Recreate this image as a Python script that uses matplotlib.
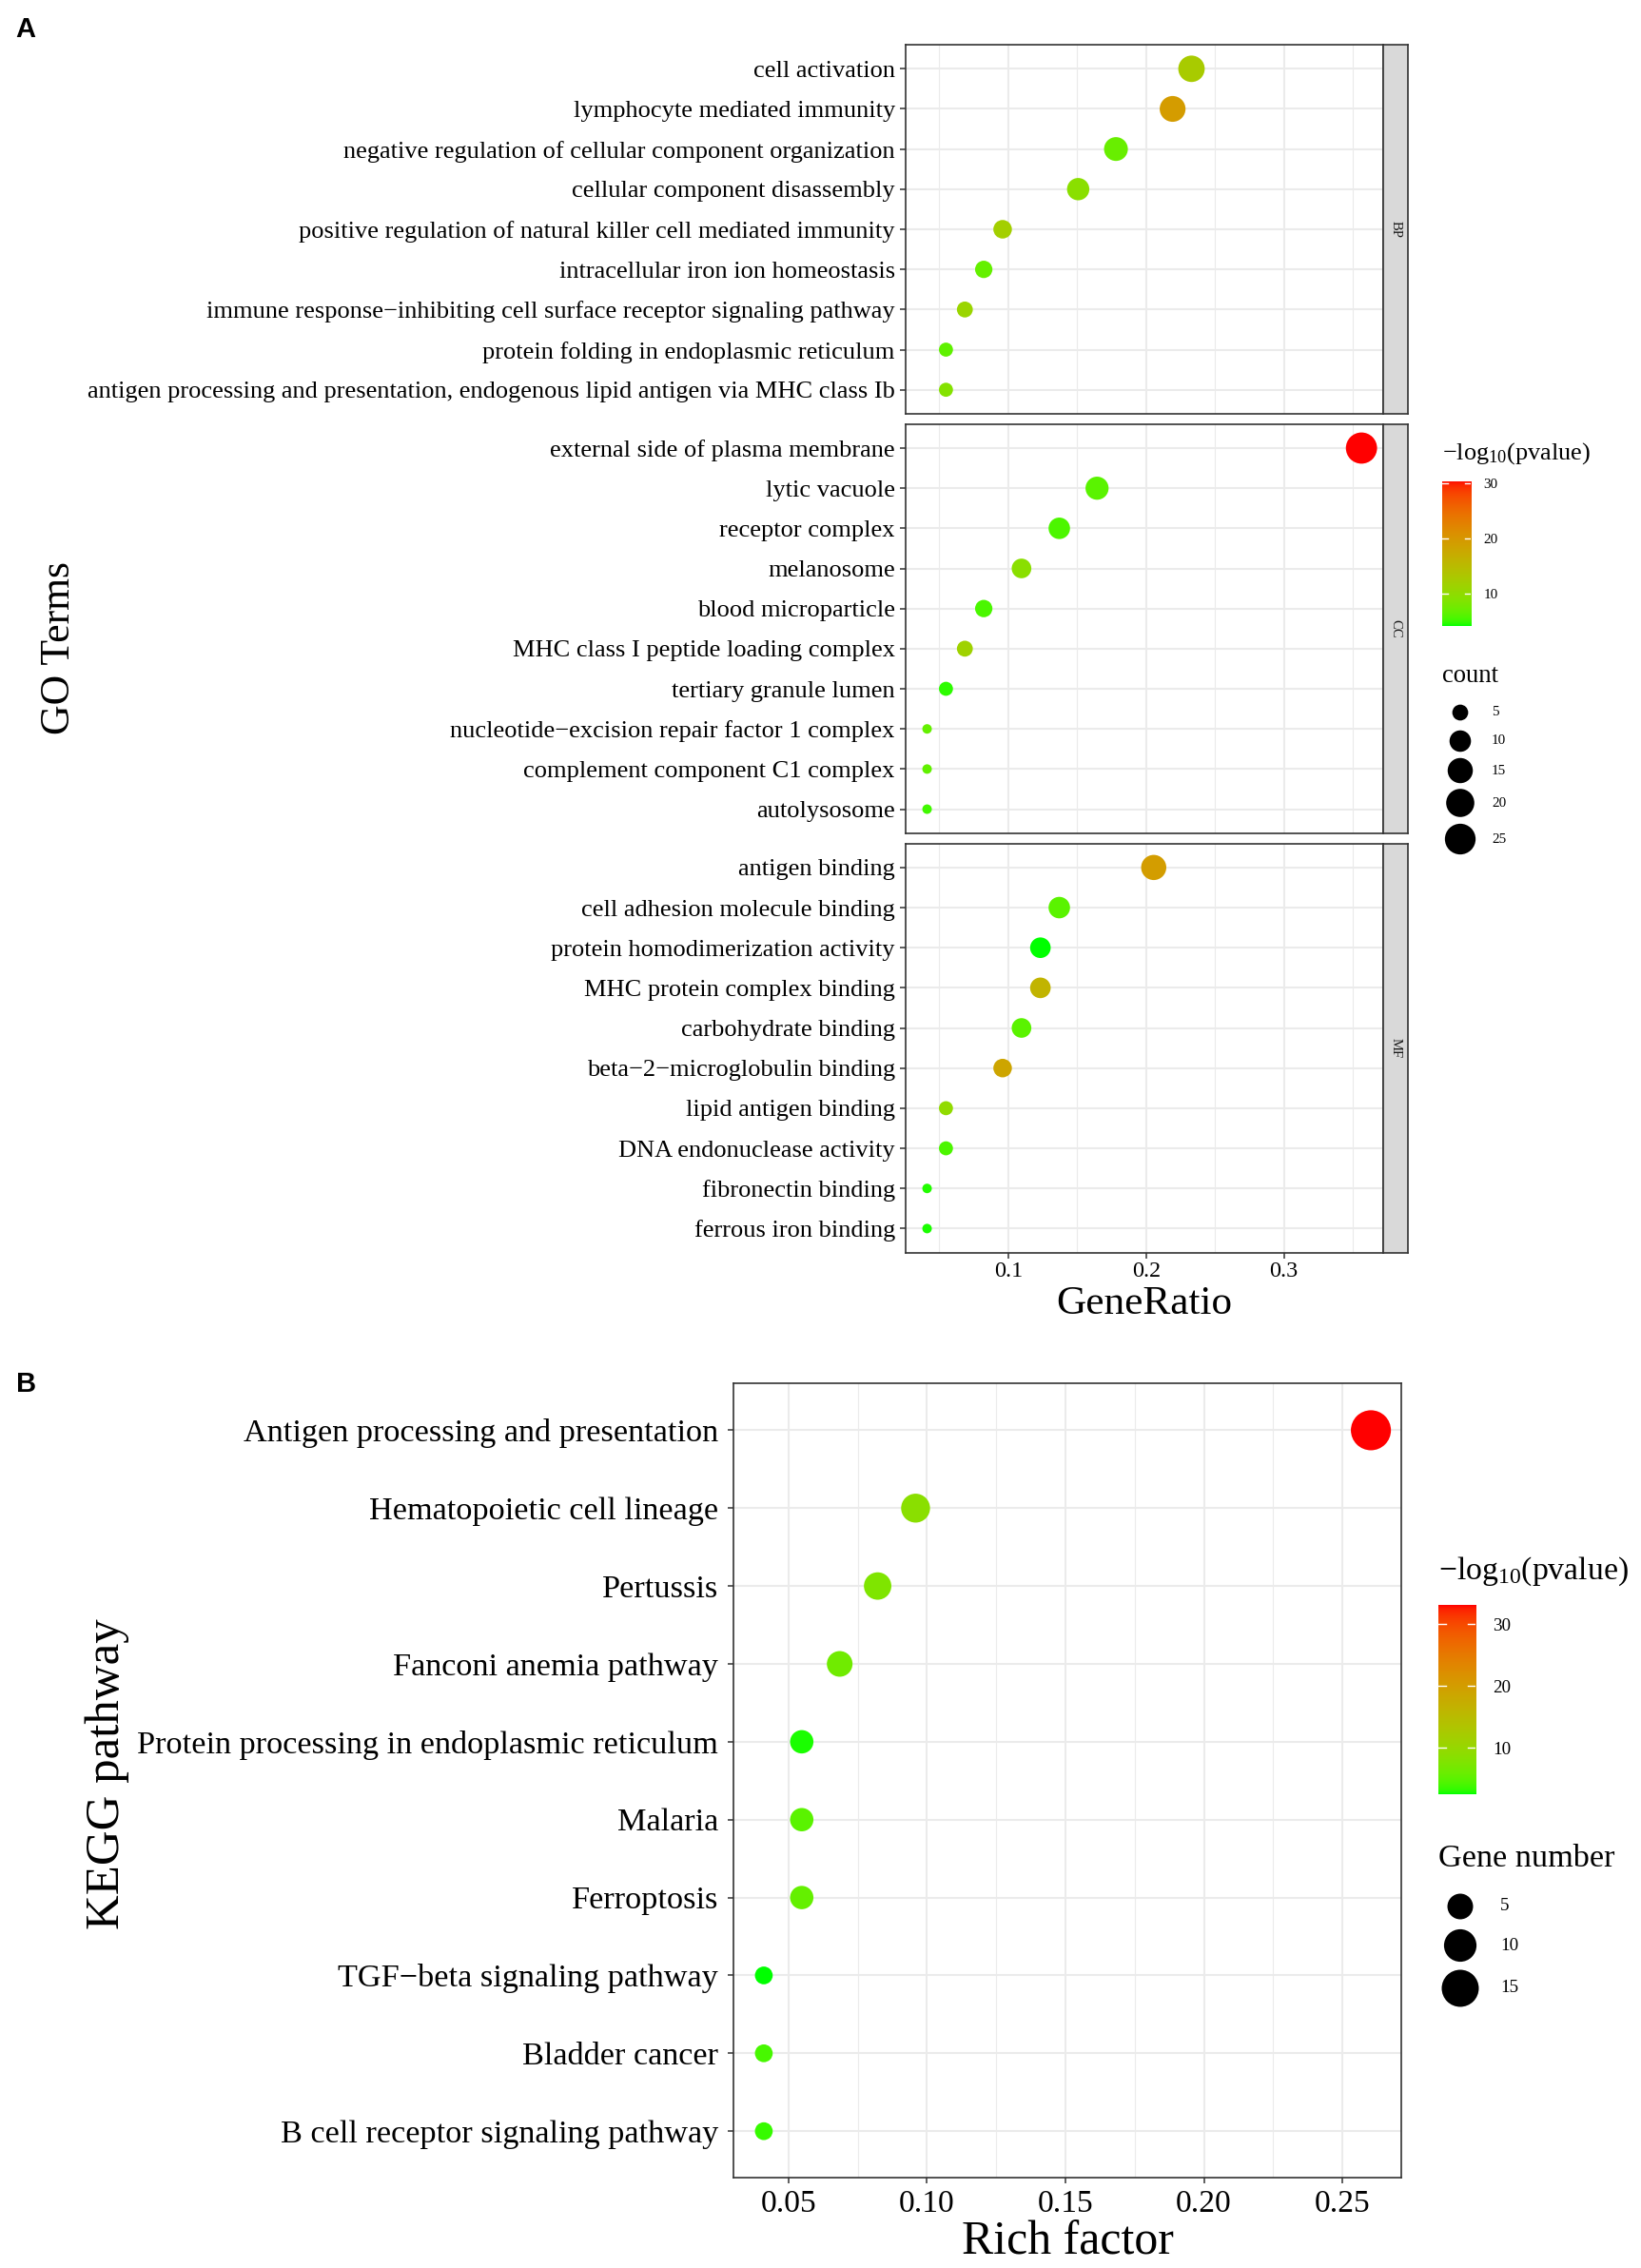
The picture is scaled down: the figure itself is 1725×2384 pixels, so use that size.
import numpy as np
import matplotlib
matplotlib.use("Agg")
import matplotlib.pyplot as plt
from matplotlib.colors import ListedColormap, Normalize

plt.rcParams['font.family'] = ['Liberation Serif', 'DejaVu Serif']
plt.rcParams['mathtext.fontset'] = 'custom'
plt.rcParams['mathtext.rm'] = 'Liberation Serif'
plt.rcParams['mathtext.it'] = 'Liberation Serif:italic'

# ---------------- data ----------------
bp_terms = ["cell activation", "lymphocyte mediated immunity",
            "negative regulation of cellular component organization",
            "cellular component disassembly",
            "positive regulation of natural killer cell mediated immunity",
            "intracellular iron ion homeostasis",
            "immune response\u2212inhibiting cell surface receptor signaling pathway",
            "protein folding in endoplasmic reticulum",
            "antigen processing and presentation, endogenous lipid antigen via MHC class Ib"]
bp_ratio = [0.2329, 0.2192, 0.1781, 0.1507, 0.0959, 0.0822, 0.0685, 0.0548, 0.0548]
bp_count = [17, 16, 13, 11, 7, 6, 5, 4, 4]
bp_logp = [12.5, 19.4, 7.0, 9.4, 12.0, 6.8, 11.0, 6.5, 8.9]

cc_terms = ["external side of plasma membrane", "lytic vacuole", "receptor complex",
            "melanosome", "blood microparticle", "MHC class I peptide loading complex",
            "tertiary granule lumen", "nucleotide\u2212excision repair factor 1 complex",
            "complement component C1 complex", "autolysosome"]
cc_ratio = [0.3562, 0.1644, 0.1370, 0.1096, 0.0822, 0.0685, 0.0548, 0.0411, 0.0411, 0.0411]
cc_count = [26, 12, 10, 8, 6, 5, 4, 3, 3, 3]
cc_logp = [30.34, 6.3, 5.7, 9.4, 5.5, 11.5, 4.7, 6.8, 6.6, 5.2]

mf_terms = ["antigen binding", "cell adhesion molecule binding",
            "protein homodimerization activity", "MHC protein complex binding",
            "carbohydrate binding", "beta\u22122\u2212microglobulin binding",
            "lipid antigen binding", "DNA endonuclease activity",
            "fibronectin binding", "ferrous iron binding"]
mf_ratio = [0.2055, 0.1370, 0.1233, 0.1233, 0.1096, 0.0959, 0.0548, 0.0548, 0.0411, 0.0411]
mf_count = [15, 10, 9, 9, 8, 7, 4, 4, 3, 3]
mf_logp = [19.1, 6.3, 4.17, 16.0, 6.3, 18.0, 10.0, 5.7, 4.5, 4.4]

go_facets = ["BP", "CC", "MF"]
go_xticks = [0.1, 0.2, 0.3]
go_xminor = [0.05, 0.15, 0.25, 0.35]
go_cbar_ticks = [10, 20, 30]
go_size_breaks = [5, 10, 15, 20, 25]

kegg_terms = ["Antigen processing and presentation", "Hematopoietic cell lineage",
              "Pertussis", "Fanconi anemia pathway",
              "Protein processing in endoplasmic reticulum", "Malaria", "Ferroptosis",
              "TGF\u2212beta signaling pathway", "Bladder cancer",
              "B cell receptor signaling pathway"]
kegg_ratio = [0.2603, 0.0959, 0.0822, 0.0685, 0.0548, 0.0548, 0.0548, 0.0411, 0.0411, 0.0411]
kegg_count = [19, 7, 6, 5, 4, 4, 4, 3, 3, 3]
kegg_logp = [33.18, 8.7, 7.6, 6.5, 2.9, 5.0, 5.6, 2.56, 4.1, 3.5]
kegg_xticks = [0.05, 0.10, 0.15, 0.20, 0.25]
kegg_xticklabels = ["0.05", "0.10", "0.15", "0.20", "0.25"]
kegg_xminor = [0.075, 0.125, 0.175, 0.225]
kegg_cbar_ticks = [10, 20, 30]
kegg_size_breaks = [5, 10, 15]

# ---------------- colour scale (green -> red interpolated in Lab, like ggplot) -------------
_M = np.array([[0.4124, 0.3576, 0.1805], [0.2126, 0.7152, 0.0722], [0.0193, 0.1192, 0.9505]])
_Minv = np.linalg.inv(_M)
_white = np.array([0.95047, 1.0, 1.08883])
_d = 6 / 29


def _lin(c):
    c = np.asarray(c, float)
    return np.where(c <= 0.04045, c / 12.92, ((c + 0.055) / 1.055) ** 2.4)


def _gam(c):
    c = np.clip(c, 0, 1)
    return np.where(c <= 0.0031308, 12.92 * c, 1.055 * c ** (1 / 2.4) - 0.055)


def _f(t):
    return np.where(t > _d ** 3, np.cbrt(t), t / (3 * _d * _d) + 4 / 29)


def _finv(t):
    return np.where(t > _d, t ** 3, 3 * _d * _d * (t - 4 / 29))


def rgb2lab(rgb):
    xyz = _M @ _lin(rgb)
    fx, fy, fz = _f(xyz / _white)
    return np.array([116 * fy - 16, 500 * (fx - fy), 200 * (fy - fz)])


def lab2rgb(lab):
    L, a, b = lab
    fy = (L + 16) / 116
    fx = fy + a / 500
    fz = fy - b / 200
    xyz = _white * _finv(np.array([fx, fy, fz]))
    return _gam(_Minv @ xyz)


lab_lo = rgb2lab([0, 1, 0])
lab_hi = rgb2lab([1, 0, 0])
cmap = ListedColormap([lab2rgb((1 - t) * lab_lo + t * lab_hi) for t in np.linspace(0, 1, 256)])

# ---------------- figure ----------------
W, H, DPI = 1725, 2384, 100
fig = plt.figure(figsize=(W / DPI, H / DPI), dpi=DPI)
PT = 72 / DPI
renderer = fig.canvas.get_renderer()

overlay = fig.add_axes([0, 0, 1, 1])
overlay.set_xlim(0, W)
overlay.set_ylim(H, 0)
overlay.axis('off')


def box(x0, y0, x1, y1):
    return [x0 / W, 1 - y1 / H, (x1 - x0) / W, (y1 - y0) / H]


def fit(text, target, **kw):
    t = overlay.text(0, 0, text, fontsize=20, **kw)
    w = t.get_window_extent(renderer=renderer).width
    t.remove()
    return 20 * target / w


BORDER = '#333333'
GRID = '#EBEBEB'


def size_px(c, cmin, cmax, a, b):
    c = np.asarray(c, float)
    return a + b * np.sqrt((c - cmin) / (cmax - cmin))


def style_axes(ax, ylab_fs, ypad):
    ax.set_axisbelow(True)
    ax.grid(True, which='major', color=GRID, lw=1.5)
    ax.grid(True, which='minor', axis='x', color=GRID, lw=0.8)
    for s in ax.spines.values():
        s.set_color(BORDER)
        s.set_linewidth(1.2)
    ax.tick_params(axis='y', length=4, width=1.1, color=BORDER, labelsize=ylab_fs,
                   pad=ypad, labelcolor='black')
    ax.tick_params(axis='x', which='minor', length=0)


# ================= Panel A =================
go_terms = [bp_terms, cc_terms, mf_terms]
go_ratio = [bp_ratio, cc_ratio, mf_ratio]
go_count = [bp_count, cc_count, mf_count]
go_logp = [bp_logp, cc_logp, mf_logp]

allA_ratio = np.concatenate(go_ratio)
allA_count = np.concatenate(go_count)
allA_logp = np.concatenate(go_logp)
normA = Normalize(allA_logp.min(), allA_logp.max())
cminA, cmaxA = allA_count.min(), allA_count.max()
A_a, A_b = 10.0, 22.8
rngA = allA_ratio.max() - allA_ratio.min()
xlimA = (allA_ratio.min() - 0.05 * rngA, allA_ratio.max() + 0.05 * rngA)

A_left, A_right, A_top, A_bottom, A_gap = 951.7, 1454.0, 47.0, 1316.7, 10.7
strip_w = 26
units = [len(t) + 0.2 for t in go_terms]
unit_px = (A_bottom - A_top - 2 * A_gap) / sum(units)

fsA_y = fit(bp_terms[-1], 849)
fsA_x = fit("0.1", 30)
fs_strip = fit("BP", 18)

y0 = A_top
for i, (lab, terms, ratio, cnt, lp) in enumerate(zip(go_facets, go_terms, go_ratio, go_count, go_logp)):
    h = units[i] * unit_px
    ax = fig.add_axes(box(A_left, y0, A_right, y0 + h))
    ypos = np.arange(len(terms))
    d = size_px(cnt, cminA, cmaxA, A_a, A_b)
    ax.scatter(ratio, ypos, s=(d * PT) ** 2, c=lp, cmap=cmap, norm=normA, linewidths=0, zorder=3)
    ax.set_yticks(ypos)
    ax.set_yticklabels(terms)
    ax.set_ylim(len(terms) - 0.4, -0.6)
    ax.set_xlim(*xlimA)
    ax.set_xticks(go_xticks)
    ax.set_xticks(go_xminor, minor=True)
    style_axes(ax, fsA_y, 3.8)
    if i < 2:
        ax.tick_params(axis='x', which='major', bottom=False, labelbottom=False)
    else:
        ax.set_xticklabels([f"{v:g}" for v in go_xticks])
        ax.tick_params(axis='x', which='major', length=4, width=1.1, color=BORDER,
                       labelsize=fsA_x, pad=3.0, labelcolor='black')
    # strip
    sax = fig.add_axes(box(A_right, y0, A_right + strip_w, y0 + h))
    sax.set_facecolor('#D9D9D9')
    sax.set_xticks([])
    sax.set_yticks([])
    for s in sax.spines.values():
        s.set_color(BORDER)
        s.set_linewidth(1.2)
    sax.text(0.5, 0.5, lab, rotation=270, ha='center', va='center', fontsize=fs_strip,
             color='#1A1A1A', transform=sax.transAxes)
    y0 += h + A_gap

overlay.text((A_left + A_right) / 2, 1371, "GeneRatio", ha='center', va='center',
             fontsize=fit("GeneRatio", 185))
overlay.text(62, 681, "GO Terms", rotation=90, ha='center', va='center',
             fontsize=fit("GO Terms", 182))

# legend A: colour bar
cbA = fig.add_axes(box(1515.7, 505.7, 1546.0, 658.3))
gradA = np.linspace(normA.vmin, normA.vmax, 256).reshape(-1, 1)
cbA.imshow(gradA, cmap=cmap, norm=normA, origin='lower', aspect='auto',
           extent=[0, 1, normA.vmin, normA.vmax])
cbA.set_xlim(0, 1)
cbA.set_ylim(normA.vmin, normA.vmax)
cbA.set_xticks([])
for v in go_cbar_ticks:
    cbA.plot([0, 0.2], [v, v], color='white', lw=1)
    cbA.plot([0.8, 1], [v, v], color='white', lw=1)
cbA.yaxis.tick_right()
cbA.set_yticks(go_cbar_ticks)
fs_legA = fit("30", 15)
cbA.tick_params(axis='y', length=0, pad=9.5, labelsize=fs_legA)
for s in cbA.spines.values():
    s.set_visible(False)

fs_titleA = fit(r"$\mathrm{-log_{10}(pvalue)}$", 156)
overlay.text(1515.7, 476.7, r"$\mathrm{-log_{10}(pvalue)}$", ha='left', va='center', fontsize=fs_titleA)
overlay.text(1515.7, 710.7, "count", ha='left', va='center', fontsize=fit("count", 58.7))
legA_y = [749, 779, 810, 844, 882]
dA = size_px(go_size_breaks, cminA, cmaxA, A_a, A_b)
overlay.scatter([1535] * len(go_size_breaks), legA_y, s=(dA * PT) ** 2, color='black', linewidths=0)
for yy, v in zip(legA_y, go_size_breaks):
    overlay.text(1568, yy, str(v), ha='left', va='center', fontsize=fs_legA)

overlay.text(16, 39, "A", ha='left', va='baseline', fontsize=21, fontweight='bold',
             family=['Liberation Sans', 'DejaVu Sans'])

# ================= Panel B =================
B_left, B_right, B_top, B_bottom = 771.0, 1473.0, 1454.3, 2289.3
kr = np.array(kegg_ratio)
kc = np.array(kegg_count)
kl = np.array(kegg_logp)
normB = Normalize(kl.min(), kl.max())
rngB = kr.max() - kr.min()
axB = fig.add_axes(box(B_left, B_top, B_right, B_bottom))
yposB = np.arange(len(kegg_terms))
dB = size_px(kc, kc.min(), kc.max(), 18.7, 23.4)
axB.scatter(kr, yposB, s=(dB * PT) ** 2, c=kl, cmap=cmap, norm=normB, linewidths=0, zorder=3)
axB.set_yticks(yposB)
axB.set_yticklabels(kegg_terms)
axB.set_ylim(len(kegg_terms) - 0.4, -0.6)
axB.set_xlim(kr.min() - 0.05 * rngB, kr.max() + 0.05 * rngB)
axB.set_xticks(kegg_xticks)
axB.set_xticklabels(kegg_xticklabels)
axB.set_xticks(kegg_xminor, minor=True)
fsB_y = fit("Protein processing in endoplasmic reticulum", 612)
style_axes(axB, fsB_y, 7.5)
axB.tick_params(axis='x', which='major', length=4, width=1.1, color=BORDER,
                labelsize=fit("0.05", 58.3), pad=4.5, labelcolor='black')

overlay.text((B_left + B_right) / 2, 2357, "Rich factor", ha='center', va='center',
             fontsize=fit("Rich factor", 223))
overlay.text(113, 1865, "KEGG pathway", rotation=90, ha='center', va='center',
             fontsize=fit("KEGG pathway", 326))

cbB = fig.add_axes(box(1511.7, 1686.7, 1551.0, 1885.7))
gradB = np.linspace(normB.vmin, normB.vmax, 256).reshape(-1, 1)
cbB.imshow(gradB, cmap=cmap, norm=normB, origin='lower', aspect='auto',
           extent=[0, 1, normB.vmin, normB.vmax])
cbB.set_xlim(0, 1)
cbB.set_ylim(normB.vmin, normB.vmax)
cbB.set_xticks([])
for v in kegg_cbar_ticks:
    cbB.plot([0, 0.2], [v, v], color='white', lw=1)
    cbB.plot([0.8, 1], [v, v], color='white', lw=1)
cbB.yaxis.tick_right()
cbB.set_yticks(kegg_cbar_ticks)
fs_legB = fit("30", 19)
cbB.tick_params(axis='y', length=0, pad=13, labelsize=fs_legB)
for s in cbB.spines.values():
    s.set_visible(False)

overlay.text(1511.7, 1651.7, r"$\mathrm{-log_{10}(pvalue)}$", ha='left', va='center',
             fontsize=fit(r"$\mathrm{-log_{10}(pvalue)}$", 200))
overlay.text(1511.7, 1953.3, "Gene number", ha='left', va='center', fontsize=fit("Gene number", 186))
legB_y = [2004, 2045, 2090]
dBl = size_px(kegg_size_breaks, kc.min(), kc.max(), 18.7, 23.4)
overlay.scatter([1535] * len(kegg_size_breaks), legB_y, s=(dBl * PT) ** 2, color='black', linewidths=0)
for yy, v in zip(legB_y, kegg_size_breaks):
    overlay.text(1577, yy, str(v), ha='left', va='center', fontsize=fs_legB)

overlay.text(16.7, 1462.7, "B", ha='left', va='baseline', fontsize=21, fontweight='bold',
             family=['Liberation Sans', 'DejaVu Sans'])

fig.savefig("out.png", dpi=DPI)
